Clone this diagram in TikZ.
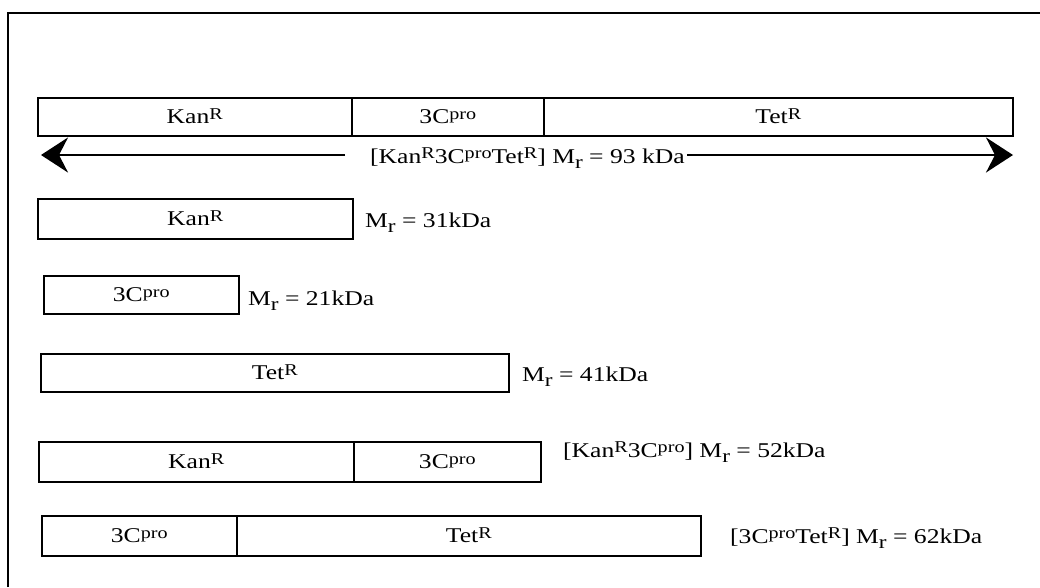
\documentclass[tikz,border=0pt]{standalone}
\usepackage{fontspec}
\setmainfont{Liberation Serif}[FakeStretch=1.22]
\usetikzlibrary{arrows.meta}
\newcommand{\Sup}[1]{\raisebox{4.5pt}{\fontsize{16.5}{16.5}\selectfont #1}}
\newcommand{\Mr}{M\raisebox{-5pt}{\fontsize{19}{19}\selectfont r}}
\begin{document}
\begin{tikzpicture}[x=1pt,y=-1pt,
  seg/.style={draw,line width=1.6pt,inner sep=0pt,anchor=north west,
    text height=14pt,text depth=0pt,font=\fontsize{21}{24}\selectfont},
  lab/.style={anchor=base west,inner sep=0pt,font=\fontsize{21}{24}\selectfont},
  frame/.style={line width=2.8pt},
  bigarrow/.style={line width=2.6pt,-{Stealth[length=27pt,width=35pt,inset=9pt]}}]
\useasboundingbox (0,0) rectangle (1040,587);
% frame (top and left sides)
\draw[frame] (8,587) -- (8,13) -- (1040,13);
% row 1
\node[seg,minimum width=314pt,minimum height=38pt] (r1a) at (37,97) {Kan\Sup{R}};
\node[seg,minimum width=192pt,minimum height=38pt] (r1b) at (351,97) {3C\Sup{pro}};
\node[seg,minimum width=469pt,minimum height=38pt] (r1c) at (543,97) {Tet\Sup{R}};
% arrow with label
\node[lab] (l1) at (370,163) {[Kan\Sup{R}3C\Sup{pro}Tet\Sup{R}] \Mr\ = 93 kDa};
\coordinate (aL) at (41,155);
\coordinate (aLe) at (345,155);
\coordinate (aRs) at (687,155);
\coordinate (aR) at (1013,155);
\draw[bigarrow] (aLe) -- (aL);
\draw[bigarrow] (aRs) -- (aR);
% row 2
\node[seg,minimum width=315pt,minimum height=40pt] (r2) at (37,198) {Kan\Sup{R}};
\node[lab] (l2) at (365,227) {\Mr\ = 31kDa};
% row 3
\node[seg,minimum width=195pt,minimum height=38pt] (r3) at (43,275) {3C\Sup{pro}};
\node[lab] (l3) at (248,305) {\Mr\ = 21kDa};
% row 4
\node[seg,minimum width=468pt,minimum height=38pt] (r4) at (40,353) {Tet\Sup{R}};
\node[lab] (l4) at (522,381) {\Mr\ = 41kDa};
% row 5
\node[seg,minimum width=315pt,minimum height=40pt] (r5a) at (38,441) {Kan\Sup{R}};
\node[seg,minimum width=187pt,minimum height=40pt] (r5b) at (353,441) {3C\Sup{pro}};
\node[lab] (l5) at (563,457) {[Kan\Sup{R}3C\Sup{pro}] \Mr\ = 52kDa};
% row 6
\node[seg,minimum width=195pt,minimum height=40pt] (r6a) at (41,515) {3C\Sup{pro}};
\node[seg,minimum width=464pt,minimum height=40pt] (r6b) at (236,515) {Tet\Sup{R}};
\node[lab] (l6) at (730,543) {[3C\Sup{pro}Tet\Sup{R}] \Mr\ = 62kDa};
\end{tikzpicture}
\end{document}
